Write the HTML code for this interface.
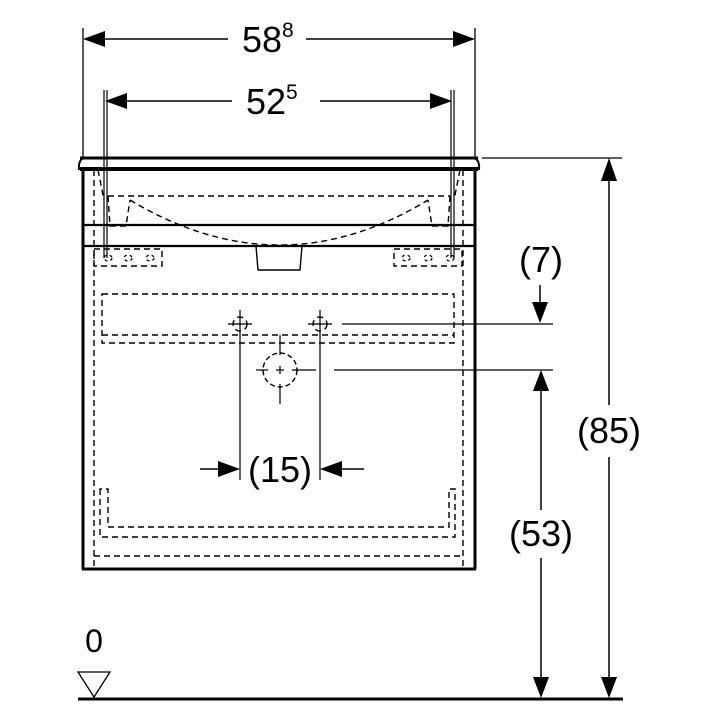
<!DOCTYPE html>
<html><head><meta charset="utf-8"><style>html,body{margin:0;padding:0;background:#fff}svg{display:block}</style></head><body>
<svg width="720" height="720" viewBox="0 0 720 720" xmlns="http://www.w3.org/2000/svg" font-family="Liberation Sans, Arial, sans-serif">
<rect width="720" height="720" fill="#fff"/>
<g stroke="#000" fill="none">
<!-- top dims -->
<line x1="83" y1="28" x2="83" y2="158" stroke-width="1.3"/>
<line x1="475" y1="28" x2="475" y2="158" stroke-width="1.3"/>
<line x1="100" y1="39" x2="228" y2="39" stroke-width="1.5"/>
<line x1="306" y1="39" x2="458" y2="39" stroke-width="1.5"/>
<line x1="104" y1="90" x2="104" y2="258" stroke-width="1.2"/>
<line x1="107" y1="90" x2="107" y2="258" stroke-width="1.2"/>
<line x1="451" y1="90" x2="451" y2="258" stroke-width="1.2"/>
<line x1="454" y1="90" x2="454" y2="258" stroke-width="1.2"/>
<line x1="122" y1="101" x2="232" y2="101" stroke-width="1.5"/>
<line x1="320" y1="101" x2="436" y2="101" stroke-width="1.5"/>
<!-- cabinet -->
<path d="M79 170 Q78 158 86 158 L472 158 Q480 158 479 170" stroke-width="2"/>
<line x1="80" y1="158" x2="478" y2="158" stroke-width="3"/>
<line x1="80" y1="169" x2="478" y2="169" stroke-width="4"/>
<line x1="83" y1="168" x2="83" y2="569" stroke-width="3"/>
<line x1="475" y1="168" x2="475" y2="569" stroke-width="3"/>
<line x1="82" y1="569" x2="476" y2="569" stroke-width="3"/>
<line x1="83" y1="225" x2="475" y2="225" stroke-width="2.2"/>
<line x1="83" y1="246" x2="475" y2="246" stroke-width="2.2"/>
<g stroke-dasharray="6 4" stroke-width="1.4">
<line x1="94" y1="170" x2="94" y2="569"/>
<line x1="463" y1="170" x2="463" y2="569"/>
<line x1="108" y1="196" x2="450" y2="196"/>
<path d="M108 196 L110 226 L126 226 L130 200"/>
<path d="M450 196 L448 226 L432 226 L428 200"/>
<path d="M130 200 Q280 290 428 200"/>
<path d="M98 170 L104 200"/>
<path d="M460 170 L454 200"/>
<rect x="94" y="249" width="68" height="17"/>
<rect x="394" y="249" width="68" height="17"/>
<rect x="102" y="294" width="352" height="49"/>
<line x1="102" y1="335" x2="454" y2="335"/>
<path d="M100 489 L100 537 L455 537 L455 489 L449 489 L449 527 L108 527 L108 489 Z"/>
<line x1="94" y1="556" x2="463" y2="556"/>
<circle cx="240" cy="324" r="7"/>
<circle cx="320" cy="324" r="7"/>
<circle cx="280" cy="370" r="17" stroke-dasharray="5 3"/>
</g>
<g stroke-width="1.2" stroke-dasharray="3 3">
<ellipse cx="108" cy="258" rx="4" ry="3"/><ellipse cx="128" cy="258" rx="4" ry="3"/><ellipse cx="150" cy="258" rx="4" ry="3"/>
<ellipse cx="406" cy="258" rx="4" ry="3"/><ellipse cx="428" cy="258" rx="4" ry="3"/><ellipse cx="450" cy="258" rx="4" ry="3"/>
</g>
<path d="M256 246 L258 270 L300 270 L302 246" stroke-width="1.4"/>
<!-- crosshairs -->
<g stroke-width="1.2">
<line x1="228" y1="324" x2="252" y2="324"/><line x1="240" y1="310" x2="240" y2="480"/>
<line x1="308" y1="324" x2="332" y2="324"/><line x1="320" y1="310" x2="320" y2="480"/>
<line x1="280" y1="335" x2="280" y2="355"/><line x1="280" y1="384" x2="280" y2="404"/>
<line x1="256" y1="370" x2="268" y2="370"/><line x1="292" y1="370" x2="316" y2="370"/>
<line x1="276" y1="370" x2="284" y2="370"/><line x1="280" y1="366" x2="280" y2="374"/>
<line x1="342" y1="324" x2="553" y2="324"/>
<line x1="334" y1="370" x2="553" y2="370"/>
<line x1="482" y1="158" x2="622" y2="158"/>
<line x1="200" y1="469" x2="230" y2="469" stroke-width="1.5"/>
<line x1="332" y1="469" x2="364" y2="469" stroke-width="1.5"/>
<line x1="540" y1="285" x2="540" y2="305" stroke-width="1.5"/>
<line x1="541" y1="390" x2="541" y2="510" stroke-width="1.5"/>
<line x1="541" y1="558" x2="541" y2="680" stroke-width="1.5"/>
<line x1="609" y1="180" x2="609" y2="405" stroke-width="1.5"/>
<line x1="609" y1="457" x2="609" y2="680" stroke-width="1.5"/>
</g>
<line x1="78" y1="699" x2="623" y2="699" stroke-width="3"/>
<path d="M78 672 L110 672 L94 697 Z" stroke-width="1.3"/>
</g>
<g fill="#000">
<path d="M83 39 L105 31 L105 47 Z"/><path d="M475 39 L453 31 L453 47 Z"/>
<path d="M105 101 L127 93 L127 109 Z"/><path d="M452 101 L430 93 L430 109 Z"/>
<path d="M240 469 L218 461 L218 477 Z"/><path d="M320 469 L342 461 L342 477 Z"/>
<path d="M540 323 L532 302 L548 302 Z"/>
<path d="M541 370 L533 391 L549 391 Z"/>
<path d="M541 698 L533 677 L549 677 Z"/>
<path d="M609 158 L601 181 L617 181 Z"/>
<path d="M609 698 L601 677 L617 677 Z"/>
</g>
<g fill="#000" font-size="36">
<text x="242" y="52">58<tspan font-size="21" dy="-15">8</tspan></text>
<text x="246" y="114">52<tspan font-size="21" dy="-15">5</tspan></text>
<text x="280" y="482" text-anchor="middle">(15)</text>
<text x="541" y="272" text-anchor="middle">(7)</text>
<text x="609" y="443" text-anchor="middle">(85)</text>
<text x="541" y="546" text-anchor="middle">(53)</text>
<text x="94" y="652" text-anchor="middle" font-size="32">0</text>
</g>
</svg>
</body></html>
